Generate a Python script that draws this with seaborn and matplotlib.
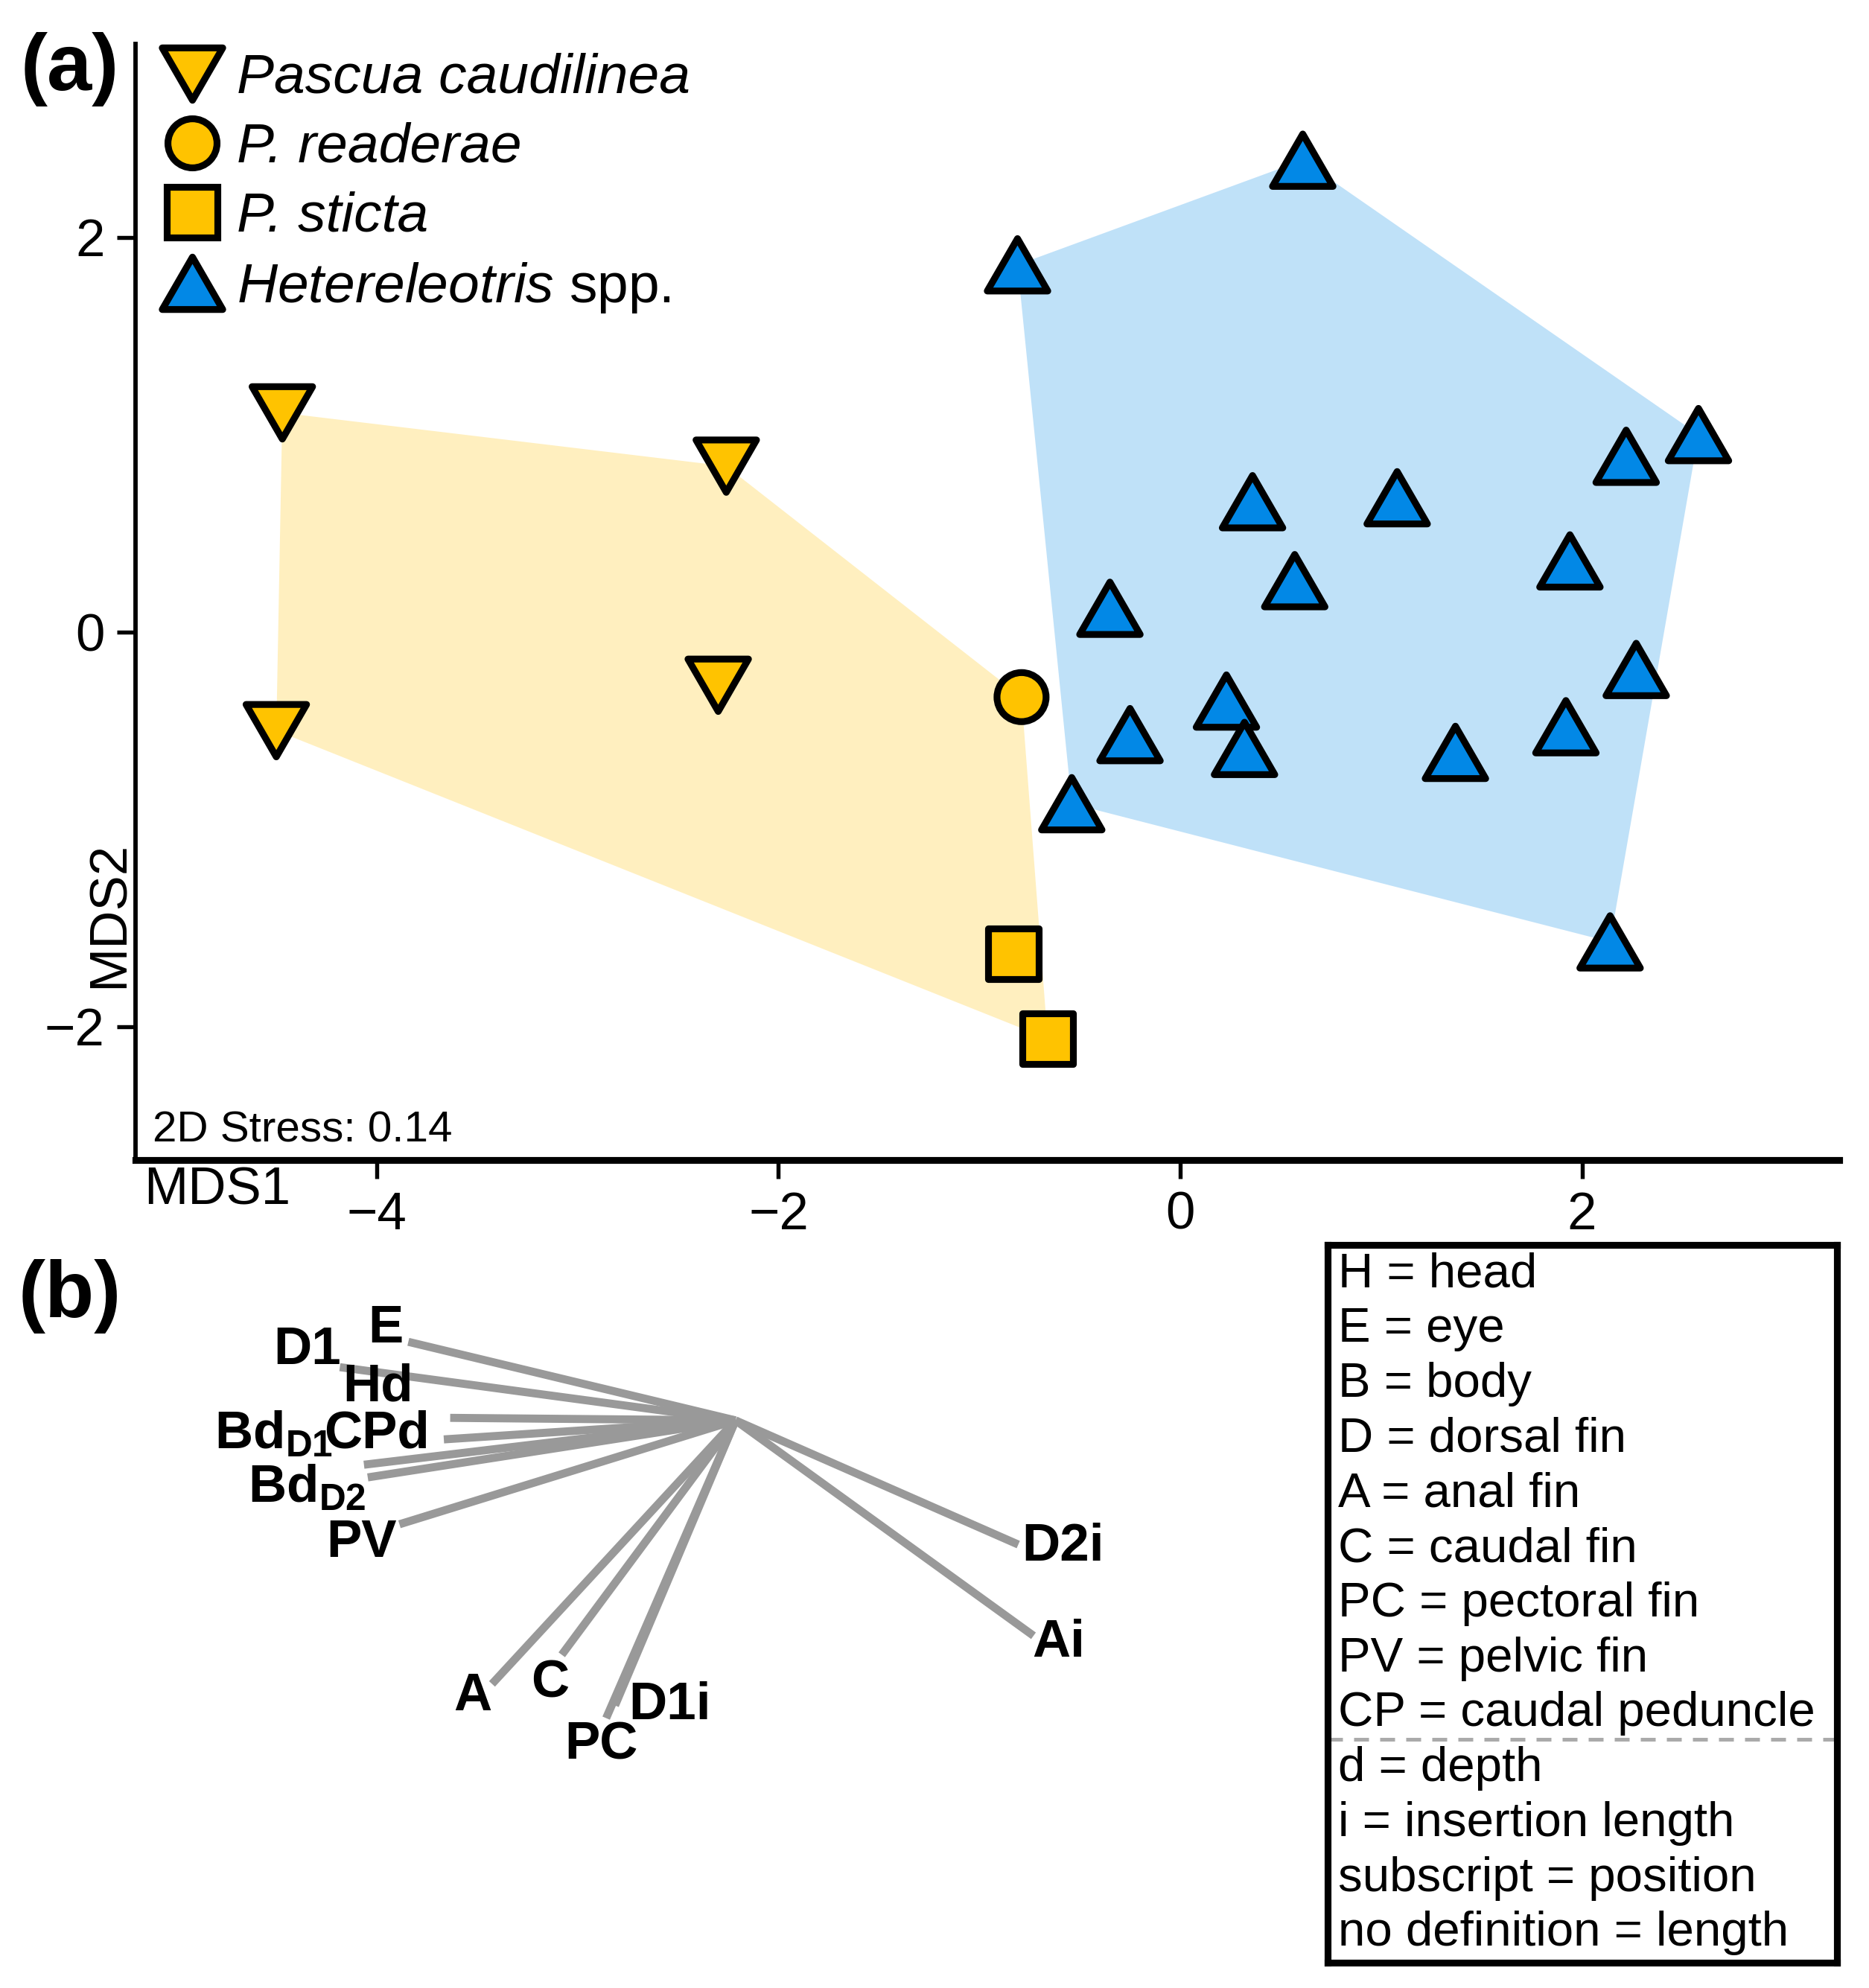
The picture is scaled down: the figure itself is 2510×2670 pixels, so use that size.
import numpy as np
import pandas as pd
import matplotlib
matplotlib.use("Agg")
import matplotlib.pyplot as plt
import seaborn as sns
from matplotlib.lines import Line2D
from matplotlib.path import Path

# --- data ---
pc_x = [-4.47, -2.26, -2.30, -4.50]          # Pascua caudilinea
pc_y = [1.11, 0.84, -0.27, -0.50]
pr_x = [-0.79]                               # P. readerae
pr_y = [-0.33]
ps_x = [-0.83, -0.66]                        # P. sticta
ps_y = [-1.63, -2.06]
het_x = [0.61, -0.81, 2.58, 2.22, 0.36, 1.08, 1.94, 0.57, -0.35,
         2.27, 0.23, -0.25, 0.32, 1.92, 1.37, -0.54, 2.14]   # Hetereleotris spp.
het_y = [2.39, 1.86, 1.00, 0.89, 0.66, 0.68, 0.36, 0.26, 0.12,
         -0.19, -0.35, -0.52, -0.59, -0.48, -0.61, -0.87, -1.57]

species = ["Pascua caudilinea", "P. readerae", "P. sticta", "Hetereleotris spp."]
species_labels = ["Pascua caudilinea", "P. readerae", "P. sticta",
                  r"$\mathit{Hetereleotris}$ spp."]

# biplot vectors (panel b)
vec_names = ["E", "D1", "Hd", "CPd", "BdD1", "BdD2", "PV", "A", "C", "PC", "D1i", "D2i", "Ai"]
vec_x = [-2.58, -3.12, -2.25, -2.30, -2.93, -2.90, -2.65, -1.92, -1.37, -1.02, -0.95, 2.23, 2.35]
vec_y = [0.62, 0.42, 0.02, -0.15, -0.35, -0.45, -0.82, -2.08, -1.85, -2.35, -2.25, -0.98, -1.70]
vec_labels = ["E", "D1", "Hd", "CPd", r"Bd$_{\mathbf{D1}}$", r"Bd$_{\mathbf{D2}}$", "PV",
              "A", "C", "PC", "D1i", "D2i", "Ai"]
# label positions in panel-b units
lab_x = [-2.76, -3.38, -2.82, -2.83, -3.64, -3.38, -2.95, -2.07, -1.46, -1.06, -0.52, 2.58, 2.55]
lab_y = [0.72, 0.55, 0.26, -0.11, -0.12, -0.54, -0.97, -2.18, -2.08, -2.57, -2.25, -1.00, -1.76]

key_lines = ["H = head", "E = eye", "B = body", "D = dorsal fin", "A = anal fin",
             "C = caudal fin", "PC = pectoral fin", "PV = pelvic fin",
             "CP = caudal peduncle", "d = depth", "i = insertion length",
             "subscript = position", "no definition = length"]

yellow = "#FFC300"
blue = "#0288E6"

sns.set_style("ticks")
plt.rcParams["font.family"] = ["Liberation Sans", "DejaVu Sans"]
plt.rcParams["mathtext.fontset"] = "custom"
plt.rcParams["mathtext.rm"] = "Liberation Sans"
plt.rcParams["mathtext.it"] = "Liberation Sans:italic"
plt.rcParams["mathtext.bf"] = "Liberation Sans:bold"
plt.rcParams["axes.unicode_minus"] = True
plt.rcParams["text.color"] = "black"
plt.rcParams["axes.edgecolor"] = "black"

# closed triangle shapes (equilateral, bbox-centred)
tri_up = Path([(0, 1), (-1.1547, -1), (1.1547, -1), (0, 1)], closed=True)
tri_down = Path([(0, -1), (-1.1547, 1), (1.1547, 1), (0, -1)], closed=True)
markers = {species[0]: tri_down, species[1]: "o", species[2]: "s", species[3]: tri_up}
palette = {species[0]: yellow, species[1]: yellow, species[2]: yellow, species[3]: blue}
sizes = {species[0]: 380, species[1]: 250, species[2]: 270, species[3]: 380}

df = pd.DataFrame({
    "MDS1": pc_x + pr_x + ps_x + het_x,
    "MDS2": pc_y + pr_y + ps_y + het_y,
    "species": [species[0]] * len(pc_x) + [species[1]] * len(pr_x)
               + [species[2]] * len(ps_x) + [species[3]] * len(het_x),
})
df["group"] = np.where(df["species"] == species[3], "het", "pascua")


def hull(pts):
    pts = sorted(set(pts))
    def cross(o, a, b):
        return (a[0] - o[0]) * (b[1] - o[1]) - (a[1] - o[1]) * (b[0] - o[0])
    lower, upper = [], []
    for p in pts:
        while len(lower) >= 2 and cross(lower[-2], lower[-1], p) <= 0:
            lower.pop()
        lower.append(p)
    for p in reversed(pts):
        while len(upper) >= 2 and cross(upper[-2], upper[-1], p) <= 0:
            upper.pop()
        upper.append(p)
    return lower[:-1] + upper[:-1]


fig = plt.figure(figsize=(2510 / 300, 2670 / 300), dpi=300)

# --- (a) NMDS ---
ax = fig.add_axes([0.0726, 0.4165, 0.9114, 0.5615])
for grp, col in [("pascua", yellow), ("het", blue)]:
    sub = df[df["group"] == grp]
    h = hull(list(zip(sub["MDS1"], sub["MDS2"])))
    ax.fill([p[0] for p in h], [p[1] for p in h], color=col, alpha=0.25, lw=0, zorder=1)

sns.scatterplot(data=df, x="MDS1", y="MDS2", hue="species", style="species",
                size="species", markers=markers, palette=palette, sizes=sizes,
                edgecolor="black", linewidth=2.2, legend=False, ax=ax, zorder=3)

ax.set_xlim(-5.2, 3.28)
ax.set_ylim(-2.675, 2.98)
ax.set_xticks([-4, -2, 0, 2])
ax.set_yticks([-2, 0, 2])
ax.set_xlabel("")
ax.set_ylabel("")
ax.tick_params(labelsize=17, length=6, width=1.3, pad=4, colors="black")
for side in ["top", "right"]:
    ax.spines[side].set_visible(False)
ax.spines["left"].set_linewidth(1.4)
ax.spines["bottom"].set_linewidth(2.2)

ax.text(-0.015, 0.22, "MDS2", transform=ax.transAxes, rotation=90,
        ha="center", va="center", fontsize=17)
ax.text(0.048, -0.028, "MDS1", transform=ax.transAxes, ha="center", va="center", fontsize=17)
ax.text(0.01, 0.008, "2D Stress: 0.14", transform=ax.transAxes, ha="left", va="bottom",
        fontsize=14)

handles = [Line2D([], [], linestyle="none", marker=markers[sp], markersize=np.sqrt(sizes[sp]),
                  markerfacecolor=palette[sp], markeredgecolor="black", markeredgewidth=2.2)
           for sp in species]
leg = ax.legend(handles, species_labels, loc="upper left", bbox_to_anchor=(-0.008, 1.022),
                frameon=False, fontsize=18, handletextpad=0.15, labelspacing=0.32,
                handlelength=1.3, borderaxespad=0.2)
for t in leg.get_texts()[:3]:
    t.set_fontstyle("italic")

# --- (b) vectors ---
axb = fig.add_axes([0.0, 0.0, 0.65, 0.362])
for vx, vy in zip(vec_x, vec_y):
    axb.plot([0, vx], [0, vy], color="#999999", lw=2.6, solid_capstyle="butt")
for lx, ly, lab in zip(lab_x, lab_y, vec_labels):
    axb.text(lx, ly, lab, ha="center", va="center", fontsize=17, fontweight="bold")
axb.set_xlim(-5.80, 3.78)
axb.set_ylim(-4.48, 1.2)
axb.axis("off")

# --- abbreviation key ---
axk = fig.add_axes([0.7103, 0.0128, 0.2727, 0.361])
axk.set_xticks([])
axk.set_yticks([])
for s in axk.spines.values():
    s.set_linewidth(2.2)
    s.set_color("black")
for i, line in enumerate(key_lines):
    axk.text(0.02, 0.959 - i * 0.0765, line, ha="left", va="center", fontsize=15.7,
             transform=axk.transAxes)
axk.plot([0, 1], [0.311, 0.311], color="#aaaaaa", lw=1.2, ls=(0, (4, 3)),
         transform=axk.transAxes)
axk.set_xlim(0, 1)
axk.set_ylim(0, 1)

fig.text(0.0373, 0.965, "(a)", ha="center", va="center", fontsize=26, fontweight="bold")
fig.text(0.0373, 0.348, "(b)", ha="center", va="center", fontsize=26, fontweight="bold")

fig.savefig("out.png", dpi=300)
